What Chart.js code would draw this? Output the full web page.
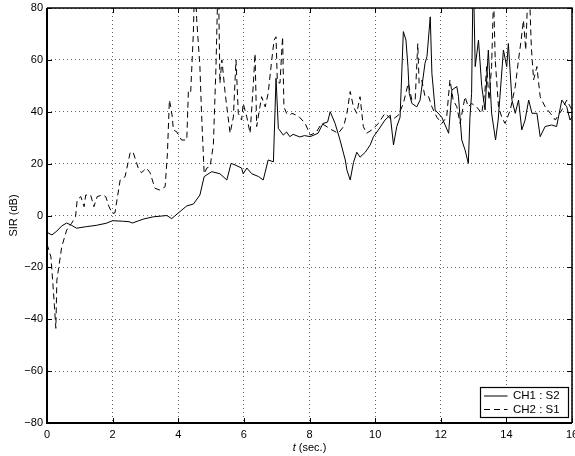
<!DOCTYPE html>
<html>
<head>
<meta charset="utf-8">
<script src="https://cdn.jsdelivr.net/npm/chart.js@4.4.1/dist/chart.umd.min.js"></script>
<style>
  html,body{margin:0;padding:0;background:#fff;}
  #wrap{width:575px;height:456px;position:relative;}
</style>
</head>
<body>
<div id="wrap"><canvas id="c"></canvas></div>
<script>
/* SIR vs time, two channels */
const FONT="'Liberation Sans',Arial,Helvetica,sans-serif";
const LABELS=['CH1 : S2','CH2 : S1'];
const X_TICKS=[0,2,4,6,8,10,12,14,16];
const Y_TICKS=[-80,-60,-40,-20,0,20,40,60,80];

// CH1 : S2 (solid)
const t1=[0,0.15,0.3,0.45,0.6,0.75,0.9,1.2,1.5,1.8,2.0,2.3,2.5,2.6,2.8,2.93,3.24,3.5,3.65,3.8,
  4.05,4.26,4.46,4.66,4.79,5.02,5.27,5.48,5.61,5.73,5.93,5.98,6.09,6.24,6.45,6.59,6.74,6.9,6.98,7.05,
  7.2,7.3,7.4,7.5,7.7,7.85,8.02,8.26,8.41,8.55,8.63,8.78,8.93,9.09,9.14,9.24,9.34,9.44,9.54,9.7,
  9.85,9.95,10.1,10.3,10.46,10.56,10.66,10.76,10.86,10.94,11.0,11.04,11.12,11.27,11.37,11.52,11.58,11.68,11.73,11.83,
  12.03,12.24,12.34,12.49,12.54,12.64,12.74,12.84,12.89,12.94,12.99,13.05,13.15,13.25,13.35,13.45,13.55,13.67,13.75,13.91,
  14.01,14.06,14.17,14.27,14.37,14.47,14.57,14.68,14.78,14.93,15.03,15.18,15.38,15.53,15.69,15.84,15.94,16];
const ch1=[-6.5,-7.5,-6,-4,-2.9,-3.8,-4.9,-4.3,-3.8,-3,-2,-2.2,-2.4,-2.9,-2,-1.4,-0.5,-0.2,0,-1.2,
  1.5,3.7,4.4,7.9,15,16.9,16.1,13.7,20.1,19.5,18.3,16.1,18.3,16.1,15,13.7,21.4,20.7,52.9,33.6,
  31,32.2,30.4,31.3,30.3,30.8,30.4,31.7,35.5,36,40,35.5,29.1,21.4,17.5,13.7,20.4,24.4,22.5,24.4,
  27.2,30.4,33,36.8,38.7,27.2,34.3,37.9,70.9,67.6,57.4,47.1,43.2,41.9,44.5,58.7,61.3,76.6,54.8,40.7,
  37.9,31.7,48.4,49.7,45.8,29.1,25.3,20.1,37.9,47.1,95,57.4,67.6,49.7,40.7,63.8,39.4,29.1,36.8,63.8,
  57.4,66.3,44.5,39.4,44.5,33,36.8,44.5,39.4,39.4,30.4,34.3,34.9,34.3,44.5,41.9,36.8,38];

// CH2 : S1 (dashed)
const t2=[0,0.12,0.2,0.27,0.3,0.45,0.6,0.75,0.87,0.92,1.03,1.13,1.18,1.33,1.43,1.53,1.69,1.79,1.89,1.99,
  2.07,2.23,2.38,2.53,2.62,2.78,2.88,3.03,3.14,3.29,3.44,3.6,3.67,3.73,3.77,3.82,3.85,3.95,4.1,4.26,
  4.31,4.38,4.46,4.51,4.56,4.66,4.71,4.79,4.87,4.97,5.07,5.15,5.22,5.27,5.33,5.38,5.43,5.48,5.58,5.68,
  5.76,5.83,5.93,5.98,6.09,6.19,6.29,6.34,6.39,6.54,6.65,6.74,6.85,6.92,6.98,7.02,7.1,7.18,7.22,7.3,
  7.41,7.46,7.66,7.87,8.02,8.2,8.37,8.68,8.88,9.04,9.14,9.24,9.34,9.44,9.54,9.64,9.74,9.9,10.1,10.3,
  10.51,10.71,10.86,11.01,11.12,11.22,11.3,11.34,11.42,11.52,11.63,11.73,11.88,12.03,12.18,12.28,12.38,12.49,12.59,12.74,
  12.84,12.94,13.09,13.25,13.35,13.4,13.47,13.55,13.61,13.66,13.76,13.86,13.96,14.12,14.27,14.37,14.45,14.52,14.59,14.68,
  14.76,14.83,14.93,15.03,15.18,15.34,15.49,15.69,15.84,16];
const ch2=[-11,-16,-30,-43.5,-25,-12,-5.6,-3,-0.5,6,7.3,3.4,7.9,7.9,3.4,7.3,7.9,7.3,3.4,0.8,
  1,13.7,15,24,24.6,18.3,16.5,18.3,16.5,10.5,9.8,11.1,24,44.5,41.9,37.9,33,32.3,29.1,29.1,
  48.4,47.8,70.2,95,76,57.4,39.4,16.1,18.3,18.9,27.2,57.4,95,51,60,53.6,47.1,41.9,31.7,38,
  60,39.4,36.8,43.2,37.9,31.7,51,62.4,34.3,45.8,41.9,47.1,60,67.6,68.9,51.6,51,68.9,41.9,39.4,
  38.7,39.4,38.4,35.5,31,32,35.5,33,31.7,34.3,39.4,47.8,41.9,39.4,45.8,34.3,31.7,33,35.5,39.4,
  36.8,38.7,43.2,51,44.5,44.5,66.3,51,52.3,45.8,45.8,41.9,37.9,35.5,37.9,52.3,44.5,41.9,35.5,45.8,
  41.9,43.2,41.9,39.4,48.4,57.4,44.5,57.4,85,60,41.9,37.9,35.5,40.7,49.7,60,67.6,75.3,63.8,95,
  65.1,52.3,57.4,45.8,41.9,39.4,36.8,40.7,44.5,40.7];

const pts=(xs,ys)=>xs.map((x,i)=>({x:x,y:ys[i]}));
const minus=v=>v<0?'\u2212'+Math.abs(v):String(v);

// box, inward ticks, legend and axis titles
const frame={
  id:'frame',
  afterDraw(chart){
    const {ctx,chartArea:a,scales:{x,y}}=chart;
    ctx.save();
    ctx.strokeStyle='#000';
    // inward ticks
    ctx.lineWidth=1;
    ctx.beginPath();
    X_TICKS.forEach(v=>{
      const px=Math.round(x.getPixelForValue(v))+0.5;
      ctx.moveTo(px,a.bottom);ctx.lineTo(px,a.bottom-5);
      ctx.moveTo(px,a.top);ctx.lineTo(px,a.top+5);
    });
    Y_TICKS.forEach(v=>{
      const py=Math.round(y.getPixelForValue(v))+0.5;
      ctx.moveTo(a.left,py);ctx.lineTo(a.left+5,py);
      ctx.moveTo(a.right,py);ctx.lineTo(a.right-5,py);
    });
    ctx.stroke();
    // box
    ctx.lineWidth=1.5;
    ctx.beginPath();
    ctx.moveTo(a.left,a.top);ctx.lineTo(a.right,a.top);ctx.lineTo(a.right,a.bottom);
    ctx.stroke();
    ctx.lineWidth=2;
    ctx.beginPath();
    ctx.moveTo(a.left,a.top);ctx.lineTo(a.left,a.bottom);ctx.lineTo(a.right,a.bottom);
    ctx.stroke();
    // legend
    const lx=480.5,ly=387.5,lw=88,lh=30;
    ctx.fillStyle='#fff';ctx.fillRect(lx,ly,lw,lh);
    ctx.lineWidth=1.2;ctx.strokeRect(lx,ly,lw,lh);
    ctx.font='11.5px '+FONT;ctx.fillStyle='#000';ctx.textBaseline='middle';ctx.textAlign='left';
    chart.data.datasets.forEach((ds,i)=>{
      const yy=ly+8.5+i*13.5;
      ctx.lineWidth=1;
      ctx.setLineDash(ds.borderDash||[]);
      ctx.beginPath();ctx.moveTo(lx+3.5,yy);ctx.lineTo(lx+27,yy);ctx.stroke();
      ctx.setLineDash([]);
      ctx.fillText(ds.label,lx+32.5,yy);
    });
    // x title: italic t + (sec.)
    const cx=(a.left+a.right)/2,ty=447.5;
    ctx.font='italic 11px '+FONT;
    const w1=ctx.measureText('t').width;
    ctx.font='11px '+FONT;
    const w2=ctx.measureText(' (sec.)').width;
    const sx=cx-(w1+w2)/2;
    ctx.font='italic 11px '+FONT;ctx.fillText('t',sx,ty);
    ctx.font='11px '+FONT;ctx.fillText(' (sec.)',sx+w1,ty);
    // y title
    ctx.translate(14,(a.top+a.bottom)/2);
    ctx.rotate(-Math.PI/2);
    ctx.textAlign='center';
    ctx.fillText('SIR (dB)',0,0);
    ctx.restore();
  }
};

new Chart(document.getElementById('c'),{
  type:'line',
  data:{datasets:[
    {label:LABELS[0],data:pts(t1,ch1),borderColor:'#000',borderWidth:1,pointRadius:0,tension:0,clip:0},
    {label:LABELS[1],data:pts(t2,ch2),borderColor:'#000',borderWidth:1,borderDash:[6,4],pointRadius:0,tension:0,clip:0}
  ]},
  options:{
    responsive:true,maintainAspectRatio:false,animation:false,
    layout:{padding:{top:8,right:3,left:0,bottom:0}},
    plugins:{legend:{display:false},tooltip:{enabled:false}},
    scales:{
      x:{type:'linear',min:0,max:16,
         afterBuildTicks:s=>{s.ticks=X_TICKS.map(v=>({value:v}));},
         afterFit:s=>{s.height=33;s.paddingLeft=0;s.paddingRight=0;},
         grid:{color:'#666',lineWidth:1,drawTicks:false},
         border:{display:false,dash:[1,3]},
         ticks:{color:'#000',padding:5,maxRotation:0,font:{family:FONT,size:11}}},
      y:{min:-80,max:80,
         afterBuildTicks:s=>{s.ticks=Y_TICKS.map(v=>({value:v}));},
         afterFit:s=>{s.width=47;s.paddingTop=0;s.paddingBottom=0;},
         grid:{color:'#666',lineWidth:1,drawTicks:false},
         border:{display:false,dash:[1,3]},
         ticks:{color:'#000',padding:4,font:{family:FONT,size:11},callback:v=>minus(v)}}
    }
  },
  plugins:[frame]
});
</script>
</body>
</html>
